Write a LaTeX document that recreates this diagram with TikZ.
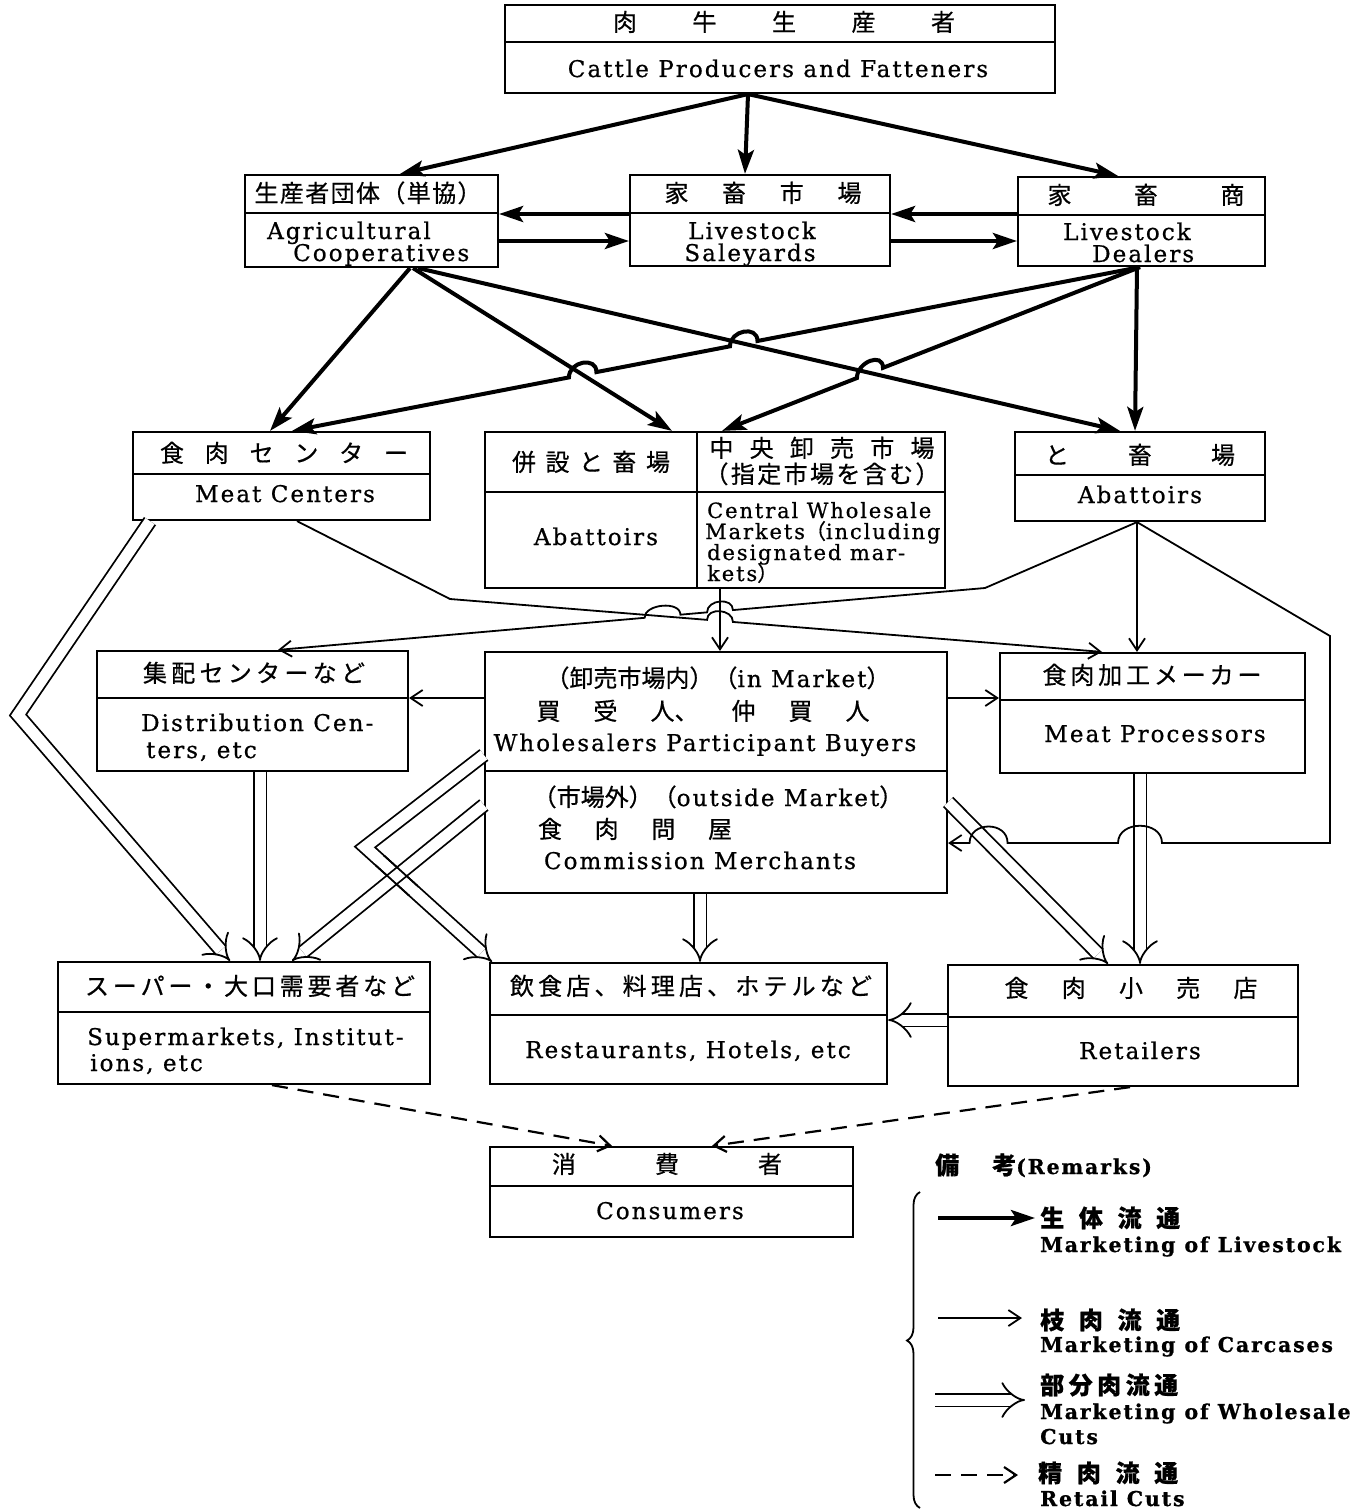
\documentclass[tikz,border=0pt]{standalone}
\usepackage{fontspec}
\newfontfamily\en{DejaVu Serif}[LetterSpace=9, FakeBold=0.7]
\newfontfamily\jp{Noto Sans CJK JP}[FakeBold=0.6]
\newcommand\J{\jp\fontsize{24}{26}\selectfont}
\newcommand\spr[2]{\makebox[#1pt][s]{\J #2}}
\usetikzlibrary{arrows.meta,calc,fit,intersections,decorations.pathreplacing}
\newcommand\mkbox[5]{\node[box, fit={(#2,#3)(#4,#5)}] (#1) {};}
\newcommand\hopc[6]{%
 \coordinate (#1a) at ($(#2)!#5pt!(#3)$);
 \coordinate (#1b) at ($(#2)!#5pt!(#4)$);
 \coordinate (#1c) at ($(#1a)+(0,-#6)$);
 \coordinate (#1d) at ($(#1b)+(0,-#6)$);}
\tikzset{
  box/.style={draw, line width=2.2pt, inner sep=0pt},
  divline/.style={line width=1.6pt},
  lbl/.style={inner sep=0pt, anchor=base, font=\en\fontsize{23}{26}\selectfont},
  lblw/.style={lbl, anchor=base west},
  small/.style={font=\en\fontsize{21}{24}\selectfont},
  leg/.style={lblw, font=\en\bfseries\fontsize{20.5}{24}\selectfont},
  livearr/.style={line width=4pt, -{Stealth[length=24pt, width=16pt, inset=5pt]}},
  carcarr/.style={line width=1.8pt, -{Straight Barb[length=12pt, width=16pt]}},
  cutarr/.style={line width=1.8pt, double distance=11pt, line join=miter, -{Implies}},
  retarr/.style={line width=2.2pt, dash pattern=on 16pt off 10pt, -{Straight Barb[length=12pt, width=16pt]}},
}
\begin{document}
\begin{tikzpicture}[x=1pt,y=-1pt]
\useasboundingbox (0,0) rectangle (1368,1512);
% ---------- boxes
\mkbox{prod}{505}{5}{1055}{93}
\mkbox{coop}{245}{175}{498}{267}
\mkbox{sale}{630}{175}{890}{266}
\mkbox{deal}{1018}{177}{1265}{266}
\mkbox{mc}{133}{432}{430}{520}
\mkbox{comb}{485}{432}{945}{588}
\mkbox{ab}{1015}{432}{1265}{521}
\mkbox{dc}{97}{651}{408}{771}
\mkbox{wh}{485}{652}{947}{893}
\mkbox{mp}{1000}{653}{1305}{773}
\mkbox{sm}{58}{962}{430}{1084}
\mkbox{rest}{490}{963}{887}{1084}
\mkbox{ret}{948}{965}{1298}{1086}
\mkbox{con}{490}{1147}{853}{1237}
% ---------- dividers
\draw[divline] (505,42) -- (1055,42);
\draw[divline] (245,213) -- (498,213);
\draw[divline] (630,213) -- (890,213);
\draw[divline] (1018,215) -- (1265,215);
\draw[divline] (133,474) -- (430,474);
\draw[divline] (485,492) -- (945,492);
\draw[divline] (697,432) -- (697,588);
\draw[divline] (1015,475) -- (1265,475);
\draw[divline] (97,698) -- (408,698);
\draw[divline] (485,771) -- (947,771);
\draw[divline] (1000,700) -- (1305,700);
\draw[divline] (58,1012) -- (430,1012);
\draw[divline] (490,1015) -- (887,1015);
\draw[divline] (948,1017) -- (1298,1017);
\draw[divline] (490,1186) -- (853,1186);
% ---------- texts
\node[lbl] (prodj) at (784,31) {\spr{342}{肉\hfill 牛\hfill 生\hfill 産\hfill 者}};
\node[lbl] (prode) at (778,77) {Cattle Producers and Fatteners};
\node[lbl] (coopj) at (368,202) {\spr{227}{生\hfill 産\hfill 者\hfill 団\hfill 体\hfill （\hfill 単\hfill 協\hfill ）}};
\node[lblw] (coope1) at (267,239) {Agricultural};
\node[lblw] (coope2) at (293,261) {Cooperatives};
\node[lbl] (salej) at (763,202) {\spr{197}{家\hfill 畜\hfill 市\hfill 場}};
\node[lbl] (salee1) at (752,239) {Livestock};
\node[lbl] (salee2) at (750,261) {Saleyards};
\node[lbl] (dealj) at (1146,204) {\spr{197}{家\hfill 畜\hfill 商}};
\node[lblw] (deale1) at (1063,240) {Livestock};
\node[lblw] (deale2) at (1092,262) {Dealers};
\node[lbl] (mcj) at (284,462) {\spr{248}{食\hfill 肉\hfill セ\hfill ン\hfill タ\hfill ー}};
\node[lbl] (mce) at (285,502) {Meat Centers};
\node[lbl] (combj1) at (591,471) {\spr{158}{併\hfill 設\hfill と\hfill 畜\hfill 場}};
\node[lbl] (combe1) at (596,545) {Abattoirs};
\node[lbl] (combj2) at (822,457) {\spr{225}{中\hfill 央\hfill 卸\hfill 売\hfill 市\hfill 場}};
\node[lbl] (combj3) at (822,483) {\spr{235}{（\hfill 指\hfill 定\hfill 市\hfill 場\hfill を\hfill 含\hfill む\hfill ）}};
\node[lblw,small] (combe2) at (707,518) {Central Wholesale};
\node[lblw,small] (combe3) at (705,539) {Markets{\jp （}including};
\node[lblw,small] (combe4) at (707,560) {designated mar-};
\node[lblw,small] (combe5) at (707,581) {kets{\jp ）}};
\node[lbl] (abj) at (1140,464) {\spr{190}{と\hfill 畜\hfill 場}};
\node[lbl] (abe) at (1140,503) {Abattoirs};
\node[lbl] (dcj) at (254,682) {\spr{222}{集\hfill 配\hfill セ\hfill ン\hfill タ\hfill ー\hfill な\hfill ど}};
\node[lblw] (dce1) at (141,731) {Distribution Cen-};
\node[lblw] (dce2) at (146,758) {ters, etc};
\node[lbl] (whj1) at (718,687) {{\J （卸売市場内）（}in Market{\J ）}};
\node[lbl] (whj2) at (703,720) {\spr{333}{買\hfill 受\hfill 人、\hfill 仲\hfill 買\hfill 人}};
\node[lbl] (whe1) at (705,751) {Wholesalers Participant Buyers};
\node[lbl] (whj3) at (718,806) {{\J （市場外）（}outside Market{\J ）}};
\node[lbl] (whj4) at (635,838) {\spr{194}{食\hfill 肉\hfill 問\hfill 屋}};
\node[lbl] (whe2) at (700,869) {Commission Merchants};
\node[lbl] (mpj) at (1152,684) {\spr{219}{食\hfill 肉\hfill 加\hfill 工\hfill メ\hfill ー\hfill カ\hfill ー}};
\node[lbl] (mpe) at (1155,742) {Meat Processors};
\node[lbl] (smj) at (250,995) {\spr{330}{ス\hfill ー\hfill パ\hfill ー\hfill ・\hfill 大\hfill 口\hfill 需\hfill 要\hfill 者\hfill な\hfill ど}};
\node[lblw] (sme1) at (87,1045) {Supermarkets, Institut-};
\node[lblw] (sme2) at (90,1071) {ions, etc};
\node[lbl] (restj) at (691,995) {\spr{362}{飲\hfill 食\hfill 店\hfill 、\hfill 料\hfill 理\hfill 店\hfill 、\hfill ホ\hfill テ\hfill ル\hfill な\hfill ど}};
\node[lbl] (reste) at (688,1058) {Restaurants, Hotels, etc};
\node[lbl] (retj) at (1131,997) {\spr{253}{食\hfill 肉\hfill 小\hfill 売\hfill 店}};
\node[lbl] (rete) at (1140,1059) {Retailers};
\node[lbl] (conj) at (667,1173) {\spr{230}{消\hfill 費\hfill 者}};
\node[lbl] (cone) at (670,1219) {Consumers};
% ---------- livestock (thick)
\draw[livearr] (prod.south -| 748,0) -- (coop.north -| 400,0);
\draw[livearr] (prod.south -| 748,0) -- (sale.north -| 745,0);
\draw[livearr] (prod.south -| 748,0) -- (deal.north -| 1118,0);
\draw[livearr] (sale.west |- 0,214) -- (coop.east |- 0,214);
\draw[livearr] (coop.east |- 0,241) -- (sale.west |- 0,241);
\draw[livearr] (deal.west |- 0,214) -- (sale.east |- 0,214);
\draw[livearr] (sale.east |- 0,241) -- (deal.west |- 0,241);
\draw[livearr] (coop.south -| 410,0) -- (mc.north -| 270,0);
\draw[livearr, name path=lcc] (coop.south -| 413,0) -- (comb.north -| 672,0);
\draw[livearr, name path=lca] (coop.south -| 418,0) -- (ab.north -| 1120,0);
\coordinate (s11) at (deal.south -| 1140,0);
\coordinate (e11) at (mc.north -| 292,0);
\path[name path=p11] (s11) -- (e11);
\path[name intersections={of=p11 and lca, by=x11a}];
\path[name intersections={of=p11 and lcc, by=x11b}];
\hopc{h11a}{x11a}{s11}{e11}{14}{16}
\hopc{h11b}{x11b}{s11}{e11}{14}{16}
\draw[livearr] (s11) -- (h11aa) .. controls (h11ac) and (h11ad) .. (h11ab) -- (h11ba) .. controls (h11bc) and (h11bd) .. (h11bb) -- (e11);
\coordinate (e12) at (comb.north -| 722,0);
\path[name path=p12] (s11) -- (e12);
\path[name intersections={of=p12 and lca, by=x12}];
\hopc{h12}{x12}{s11}{e12}{14}{16}
\draw[livearr] (s11) -- (h12a) .. controls (h12c) and (h12d) .. (h12b) -- (e12);
\draw[livearr] (deal.south -| 1137,0) -- (ab.north -| 1135,0);
% ---------- wholesale cuts (double)
\draw[cutarr] (mc.south -| 150,0) -- (18,715) -- (sm.north -| 230,0);
\draw[cutarr] (dc.south -| 260,0) -- (sm.north -| 260,0);
\coordinate (v3) at (365,847);
\coordinate (e3) at (rest.north -| 492,0);
\draw[cutarr, name path=pd3] (wh.west |- 0,755) -- (v3) -- (e3);
\draw[cutarr, name path=pd4] (wh.west |- 0,805) -- (sm.north -| 292,0);
\path[name intersections={of=pd3 and pd4, by=x34}];
\begin{scope}
\clip (x34) circle (24);
\draw[line width=1.8pt] ($(v3)!6.4pt!90:(e3)$) -- ($(e3)!6.4pt!-90:(v3)$);
\draw[line width=1.8pt] ($(v3)!6.4pt!-90:(e3)$) -- ($(e3)!6.4pt!90:(v3)$);
\end{scope}
\draw[cutarr] (wh.south -| 700,0) -- (rest.north -| 700,0);
\draw[cutarr, name path=pd6] (wh.east |- 0,802) -- (ret.north -| 1108,0);
\draw[cutarr, name path=pd7] (mp.south -| 1140,0) -- (ret.north -| 1140,0);
\draw[cutarr] (ret.west |- 0,1020) -- (rest.east |- 0,1020);
% ---------- carcases (thin)
\coordinate (abs) at (ab.south -| 1137,0);
\draw[carcarr, name path=pv] (comb.south -| 720,0) -- (wh.north -| 720,0);
\coordinate (sA) at (mc.south -| 297,0);
\coordinate (bA) at (450,599);
\coordinate (eA) at (mp.north -| 1102,0);
\path[name path=pA] (sA) -- (bA) -- (eA);
\path[name intersections={of=pA and pv, by=xAV}];
\hopc{hAV}{xAV}{bA}{eA}{13}{13}
\draw[carcarr] (sA) -- (bA) -- (hAVa) .. controls (hAVc) and (hAVd) .. (hAVb) -- (eA);
\coordinate (bB) at (985,588);
\coordinate (eB) at (dc.north -| 278,0);
\path[name path=pB] (abs) -- (bB) -- (eB);
\path[name intersections={of=pB and pv, by=xBV}];
\path[name intersections={of=pB and pA, by=xBA}];
\hopc{hBV}{xBV}{bB}{eB}{13}{13}
\hopc{hBA}{xBA}{bB}{eB}{18}{14}
\draw[carcarr] (abs) -- (bB) -- (hBVa) .. controls (hBVc) and (hBVd) .. (hBVb) -- (hBAa) .. controls (hBAc) and (hBAd) .. (hBAb) -- (eB);
\draw[carcarr] (abs) -- (mp.north -| 1137,0);
\coordinate (t3a) at (1330,636);
\coordinate (t3b) at (1330,843);
\coordinate (t3e) at (wh.east |- 0,843);
\path[name path=pT3] (t3b) -- (t3e);
\path[name intersections={of=pT3 and pd7, by=x37}];
\path[name intersections={of=pT3 and pd6, by=x36}];
\hopc{h37}{x37}{t3b}{t3e}{22}{23}
\hopc{h36}{x36}{t3b}{t3e}{19}{22}
\draw[carcarr] (abs) -- (t3a) -- (t3b) -- (h37a) .. controls (h37c) and (h37d) .. (h37b) -- (h36a) .. controls (h36c) and (h36d) .. (h36b) -- (t3e);
\draw[carcarr] (wh.west |- 0,698) -- (dc.east |- 0,698);
\draw[carcarr] (wh.east |- 0,698) -- (mp.west |- 0,698);
% ---------- retail cuts (dashed)
\draw[retarr] (sm.south -| 272,0) -- (con.north -| 612,0);
\draw[retarr] (ret.south -| 1130,0) -- (con.north -| 712,0);
% ---------- legend
\node[leg] (lgt) at (935,1174) {{\J\bfseries 備\hspace{33pt}考}(Remarks)};
\draw[line width=1.8pt, decorate, decoration={brace, amplitude=13pt, aspect=0.53}] (920,1508) -- (920,1192);
\coordinate (lg1s) at (938,1218); \coordinate (lg1e) at (1035,1218);
\draw[livearr] (lg1s) -- (lg1e);
\node[leg] (lg1j) at (1040,1227) {\spr{140}{\bfseries 生\hfill 体\hfill 流\hfill 通}};
\node[leg] (lg1t) at (1040,1252) {Marketing of Livestock};
\coordinate (lg2s) at (938,1318); \coordinate (lg2e) at (1022,1318);
\draw[carcarr] (lg2s) -- (lg2e);
\node[leg] (lg2j) at (1040,1329) {\spr{140}{\bfseries 枝\hfill 肉\hfill 流\hfill 通}};
\node[leg] (lg2t) at (1040,1352) {Marketing of Carcases};
\coordinate (lg3s) at (935,1400); \coordinate (lg3e) at (1025,1400);
\draw[cutarr] (lg3s) -- (lg3e);
\node[leg] (lg3j) at (1040,1394) {\spr{138}{\bfseries 部\hfill 分\hfill 肉\hfill 流\hfill 通}};
\node[leg] (lg3t) at (1040,1419) {Marketing of Wholesale};
\node[leg] (lg3u) at (1040,1444) {Cuts};
\coordinate (lg4s) at (935,1475); \coordinate (lg4e) at (1018,1475);
\draw[retarr] (lg4s) -- (lg4e);
\node[leg] (lg4j) at (1038,1482) {\spr{140}{\bfseries 精\hfill 肉\hfill 流\hfill 通}};
\node[leg] (lg4t) at (1040,1506) {Retail Cuts};
\end{tikzpicture}
\end{document}
